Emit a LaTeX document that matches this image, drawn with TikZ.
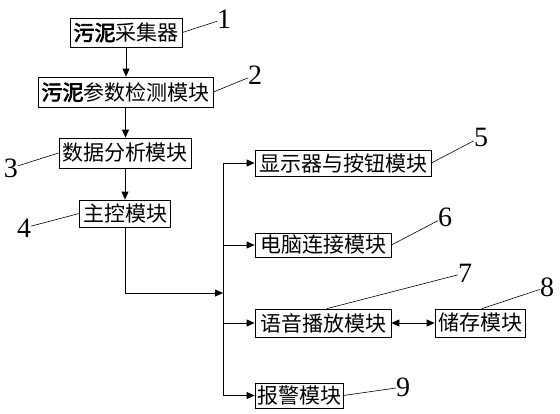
\documentclass[tikz,border=0pt]{standalone}
\usepackage{fontspec}
\setmainfont{Liberation Serif}
\newfontfamily\cjk{Noto Sans CJK SC}
\newfontfamily\cjkb[FakeBold=3]{Noto Sans CJK SC}
\usetikzlibrary{arrows.meta}
\begin{document}
\begin{tikzpicture}[x=1pt,y=-1pt,
  box/.style={draw, line width=0.8pt, inner sep=0pt, font=\cjk\fontsize{21}{21}\selectfont, anchor=center},
  num/.style={inner sep=0pt, font=\fontsize{28}{28}\selectfont},
  conn/.style={line width=0.8pt, -{Triangle[length=8pt,width=7pt]}},
  dconn/.style={line width=0.8pt, {Triangle[length=8pt,width=7pt]}-{Triangle[length=8pt,width=7pt]}},
  lead/.style={line width=0.6pt},
  bus/.style={line width=0.8pt}]
\useasboundingbox (0,0) rectangle (560,413);
\node[box, minimum width=112pt, minimum height=29pt] (b1) at (126,32.5) {{\cjkb 污泥}采集器};
\node[box, minimum width=175pt, minimum height=30pt] (b2) at (125.5,92) {{\cjkb 污泥}参数检测模块};
\node[box, minimum width=132pt, minimum height=30pt] (b3) at (125,153) {数据分析模块};
\node[box, minimum width=91pt, minimum height=27pt] (b4) at (125,213.5) {主控模块};
\node[box, minimum width=176pt, minimum height=26pt] (b5) at (343,163) {显示器与按钮模块};
\node[box, minimum width=136pt, minimum height=24pt] (b6) at (323,245) {电脑连接模块};
\node[box, minimum width=136pt, minimum height=28pt] (b7) at (323,323) {语音播放模块};
\node[box, minimum width=90pt, minimum height=28pt] (b8) at (480,323) {储存模块};
\node[box, minimum width=88pt, minimum height=25pt] (b9) at (299,395.5) {报警模块};
\node[num] (l1) at (224,19) {1};
\node[num] (l2) at (255,75) {2};
\node[num] (l3) at (11,168) {3};
\node[num] (l4) at (24,228) {4};
\node[num] (l5) at (481,137) {5};
\node[num] (l6) at (445,217) {6};
\node[num] (l7) at (465,273) {7};
\node[num] (l8) at (547,287) {8};
\node[num] (l9) at (403,387) {9};
\coordinate (j) at (223,293);
\draw[conn] (b1.south) -- (b1.south |- b2.north);
\draw[conn] (b2.south) -- (b2.south |- b3.north);
\draw[conn] (b3.south) -- (b3.south |- b4.north);
\draw[conn] (b4.south) |- (j);
\draw[bus] (j |- b5.west) -- (j |- b9.west);
\draw[conn] (j |- b5.west) -- (b5.west);
\draw[conn] (j |- b6.west) -- (b6.west);
\draw[conn] (j |- b7.west) -- (b7.west);
\draw[conn] (j |- b9.west) -- (b9.west);
\draw[dconn] (b7.east) -- (b8.west);
\draw[lead] (b1.east) -- (l1);
\draw[lead] (b2.east) -- (l2);
\draw[lead] (b3.west) -- (l3);
\draw[lead] (b4.west) -- (l4);
\draw[lead] (b5.east) -- (l5);
\draw[lead] (b6.east) -- (l6);
\draw[lead] ([xshift=4pt]b7.north) -- (l7);
\draw[lead] ([xshift=2pt]b8.north) -- (l8);
\draw[lead] (b9.east) -- (l9);
\end{tikzpicture}
\end{document}
